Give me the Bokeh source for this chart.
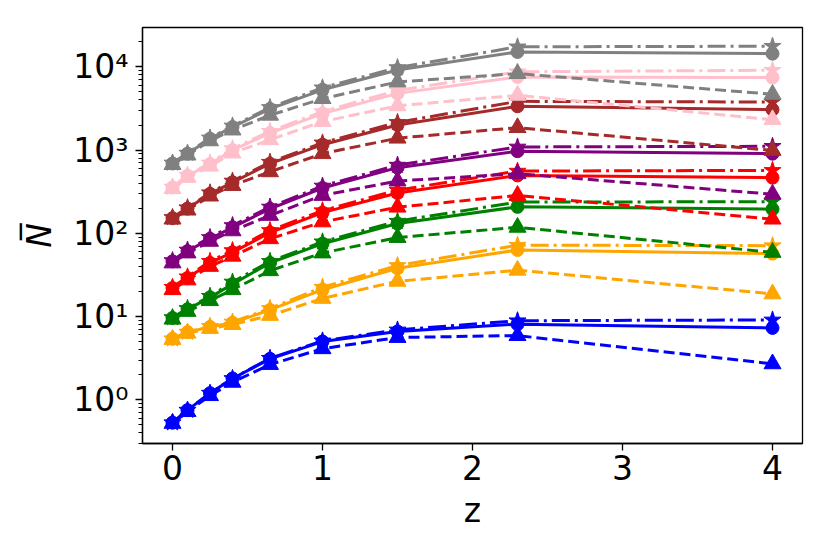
from bokeh.plotting import figure
from bokeh.models import Range1d, CustomJSTickFormatter, FixedTicker, LogTicker
from bokeh.embed import file_html
from bokeh.resources import INLINE

z = [0.0, 0.1, 0.25, 0.4, 0.65, 1.0, 1.5, 2.3, 4.0]

blue_solid   = [0.53, 0.75, 1.2, 1.8, 3.1, 5.0, 6.6, 8.1, 7.3]
blue_dashed  = [0.52, 0.72, 1.12, 1.62, 2.65, 4.1, 5.6, 5.9, 2.7]
blue_dashdot = [0.53, 0.75, 1.2, 1.8, 3.15, 5.1, 6.9, 8.9, 9.1]

orange_solid   = [5.4, 6.5, 7.5, 8.4, 12.0, 21.0, 38.0, 63.0, 57.0]
orange_dashed  = [5.3, 6.3, 7.2, 8.0, 10.3, 16.5, 26.5, 36.0, 18.7]
orange_dashdot = [5.4, 6.5, 7.6, 8.6, 12.5, 22.5, 41.0, 72.0, 71.0]

green_solid   = [9.6, 12.2, 17.0, 24.5, 44.0, 75.0, 131.0, 208.0, 195.0]
green_dashed  = [9.3, 11.5, 15.5, 21.0, 35.5, 58.0, 89.0, 118.0, 59.0]
green_dashdot = [9.7, 12.5, 17.5, 26.0, 46.0, 79.0, 140.0, 237.0, 240.0]

red_solid   = [22.0, 29.0, 44.0, 59.0, 102.0, 177.0, 305.0, 496.0, 466.0]
red_dashed  = [21.0, 27.5, 40.0, 53.0, 86.0, 137.0, 206.0, 285.0, 148.0]
red_dashdot = [22.5, 30.0, 46.0, 62.0, 108.0, 187.0, 330.0, 559.0, 570.0]

purple_solid   = [46.0, 61.0, 86.0, 118.0, 197.0, 350.0, 615.0, 970.0, 905.0]
purple_dashed  = [44.0, 58.0, 80.0, 107.0, 164.0, 285.0, 425.0, 520.0, 295.0]
purple_dashdot = [47.0, 63.0, 89.0, 124.0, 207.0, 370.0, 660.0, 1090.0, 1110.0]

brown_solid   = [152.0, 198.0, 298.0, 410.0, 686.0, 1160.0, 2000.0, 3360.0, 3060.0]
brown_dashed  = [148.0, 190.0, 280.0, 375.0, 548.0, 905.0, 1390.0, 1860.0, 990.0]
brown_dashdot = [155.0, 203.0, 307.0, 425.0, 715.0, 1220.0, 2150.0, 3850.0, 3780.0]

pink_solid   = [355.0, 490.0, 680.0, 1000.0, 1600.0, 2740.0, 4800.0, 7560.0, 7430.0]
pink_dashed  = [345.0, 470.0, 640.0, 920.0, 1330.0, 2200.0, 3400.0, 4550.0, 2320.0]
pink_dashdot = [360.0, 500.0, 700.0, 1040.0, 1680.0, 2900.0, 5200.0, 8720.0, 9100.0]

gray_solid   = [690.0, 905.0, 1370.0, 1890.0, 3120.0, 5300.0, 9150.0, 15100.0, 14400.0]
gray_dashed  = [670.0, 870.0, 1290.0, 1740.0, 2620.0, 4150.0, 6580.0, 8300.0, 4680.0]
gray_dashdot = [700.0, 920.0, 1400.0, 1950.0, 3250.0, 5600.0, 9800.0, 17400.0, 17700.0]

groups = [
    ("blue", blue_solid, blue_dashed, blue_dashdot),
    ("orange", orange_solid, orange_dashed, orange_dashdot),
    ("green", green_solid, green_dashed, green_dashdot),
    ("red", red_solid, red_dashed, red_dashdot),
    ("purple", purple_solid, purple_dashed, purple_dashdot),
    ("brown", brown_solid, brown_dashed, brown_dashdot),
    ("pink", pink_solid, pink_dashed, pink_dashdot),
    ("gray", gray_solid, gray_dashed, gray_dashdot),
]

FONT = "DejaVu Sans"
LW = 3

p = figure(width=814, height=538, y_axis_type="log",
           x_range=Range1d(-0.2, 4.2), y_range=Range1d(0.298, 29700),
           output_backend="svg", toolbar_location=None,
           min_border_left=142, min_border_right=12,
           min_border_top=27, min_border_bottom=95)
p.background_fill_color = "white"
p.border_fill_color = "white"
p.outline_line_color = "black"
p.outline_line_width = 1.3
p.grid.visible = False

for color, solid, dashed, dashdot in groups:
    p.line(z, solid, line_color=color, line_width=LW)
    p.scatter(z, solid, marker="circle", size=13, fill_color=color, line_color=color)
    p.line(z, dashed, line_color=color, line_width=LW, line_dash="11 5")
    p.scatter(z, dashed, marker="triangle", size=17, fill_color=color, line_color=color)
    p.line(z, dashdot, line_color=color, line_width=LW, line_dash="18 5 3 5")
    p.scatter(z, dashdot, marker="star", size=18, fill_color=color, line_color=color)

# x axis
p.xaxis.ticker = FixedTicker(ticks=[0, 1, 2, 3, 4])
p.xaxis.axis_label = "z"
p.xaxis.axis_label_text_font_style = "normal"
# y axis
p.yaxis.ticker = LogTicker(num_minor_ticks=10)
p.yaxis.formatter = CustomJSTickFormatter(code="""
const s = {'0':'\u2070','1':'\u00b9','2':'\u00b2','3':'\u00b3','4':'\u2074','5':'\u2075','6':'\u2076','-':'\u207b'};
const e = Math.round(Math.log10(tick));
return '10' + String(e).split('').map(c => s[c]).join('');
""")
p.yaxis.axis_label = "N\u0305"
p.yaxis.axis_label_text_font_style = "italic"

for ax in (p.xaxis[0], p.yaxis[0]):
    ax.axis_line_color = "black"
    ax.axis_line_width = 1.3
    ax.major_tick_line_width = 1.3
    ax.major_tick_line_color = "black"
    ax.major_tick_out = 7
    ax.major_tick_in = 0
    ax.minor_tick_line_width = 1.0
    ax.minor_tick_line_color = "black"
    ax.minor_tick_out = 4
    ax.minor_tick_in = 0
    ax.major_label_text_font = FONT
    ax.major_label_text_font_size = "33px"
    ax.major_label_text_color = "black"
    ax.axis_label_text_font = FONT
    ax.axis_label_text_font_size = "33px"
    ax.axis_label_text_color = "black"

p.xaxis.minor_tick_line_color = None
p.xaxis.major_label_standoff = 4
p.xaxis.axis_label_standoff = 8
p.yaxis.major_label_standoff = 7
p.yaxis.axis_label_standoff = 11

open("out.html", "w").write(file_html(p, INLINE))
